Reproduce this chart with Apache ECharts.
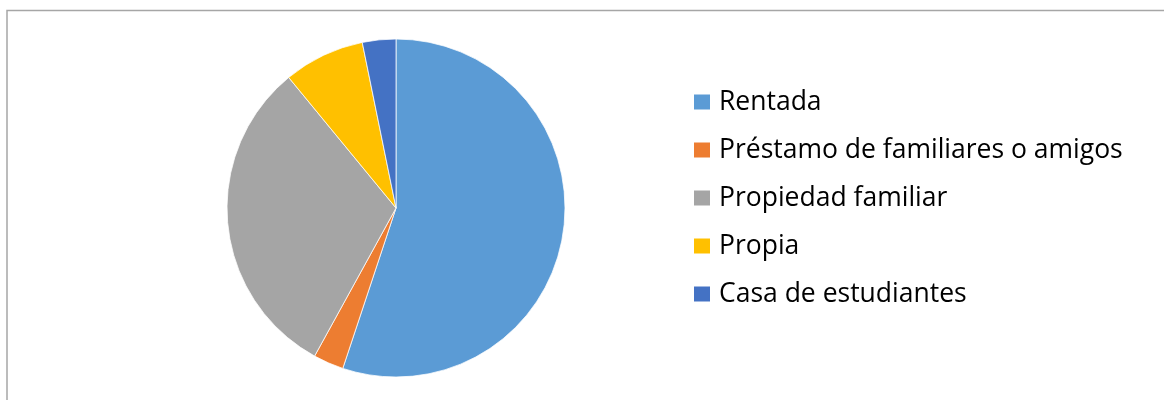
<!DOCTYPE html>
<html>
<head>
<meta charset="utf-8">
<script src="https://cdn.jsdelivr.net/npm/echarts@6/dist/echarts.min.js"></script>
<style>
  html, body { margin: 0; padding: 0; background: #fff; }
  #chart { width: 1164px; height: 400px; }
</style>
</head>
<body>
<div id="chart"></div>
<script>
// Tipo de vivienda
const categories = ['Rentada', 'Préstamo de familiares o amigos', 'Propiedad familiar', 'Propia', 'Casa de estudiantes'];
const values = [55.1, 2.9, 31.05, 7.75, 3.2];
const colors = ['#5B9BD5', '#ED7D31', '#A5A5A5', '#FFC000', '#4472C4'];

const chart = echarts.init(document.getElementById('chart'), null, { renderer: 'canvas' });

chart.setOption({
  animation: false,
  backgroundColor: '#fff',
  color: colors,
  graphic: [{
    type: 'rect',
    silent: true,
    shape: { x: 7, y: 10.5, width: 1300, height: 600 },
    style: { fill: 'none', stroke: '#a6a6a6', lineWidth: 1.5 }
  }],
  legend: {
    orient: 'vertical',
    left: 692,
    top: 88,
    padding: 0,
    icon: 'rect',
    itemWidth: 18,
    itemHeight: 17,
    itemGap: 20,
    textStyle: {
      fontFamily: 'Open Sans',
      fontSize: 26.5,
      lineHeight: 28,
      color: '#000',
      padding: [0, 0, 0, 3]
    },
    data: categories
  },
  series: [{
    type: 'pie',
    center: [396, 208],
    radius: 169,
    startAngle: 90,
    clockwise: true,
    label: { show: false },
    labelLine: { show: false },
    itemStyle: { borderColor: '#fff', borderWidth: 0.75 },
    emphasis: { disabled: true },
    data: categories.map((name, i) => ({ name, value: values[i] }))
  }]
});
</script>
</body>
</html>
